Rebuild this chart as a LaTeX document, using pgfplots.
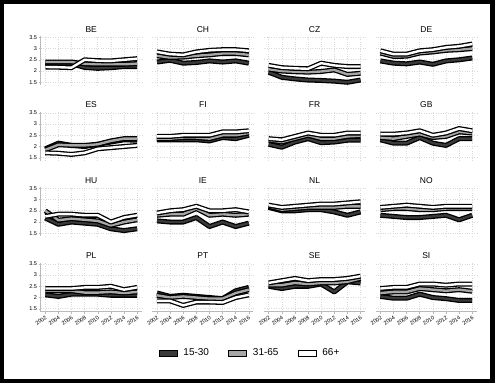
\documentclass[border=0pt]{standalone}
\usepackage{pgfplots}
\pgfplotsset{compat=1.18}
\usepackage{pgfplotstable}
\usepackage{fontspec}
\setmainfont{Liberation Sans}
\definecolor{cA}{HTML}{3A3A3A}
\definecolor{cB}{HTML}{A6A6A6}
\definecolor{cC}{HTML}{FFFFFF}

\pgfplotstableread{
year a b c
2002 2.35 2.40 2.18
2004 2.33 2.40 2.17
2006 2.33 2.40 2.15
2008 2.16 2.32 2.50
2010 2.12 2.30 2.46
2012 2.15 2.30 2.45
2014 2.20 2.30 2.50
2016 2.20 2.33 2.55
}\tBE
\pgfplotstableread{
year a b c
2002 2.40 2.68 2.85
2004 2.48 2.60 2.75
2006 2.35 2.62 2.72
2008 2.38 2.68 2.85
2010 2.45 2.72 2.92
2012 2.40 2.78 2.95
2014 2.45 2.78 2.95
2016 2.35 2.72 2.90
}\tCH
\pgfplotstableread{
year a b c
2002 1.95 2.08 2.25
2004 1.72 2.00 2.15
2006 1.65 1.97 2.12
2008 1.60 1.95 2.10
2010 1.58 1.98 2.35
2012 1.55 2.05 2.25
2014 1.50 1.85 2.20
2016 1.60 1.90 2.20
}\tCZ
\pgfplotstableread{
year a b c
2002 2.45 2.80 2.90
2004 2.35 2.65 2.75
2006 2.32 2.66 2.75
2008 2.40 2.80 2.90
2010 2.30 2.85 2.95
2012 2.45 2.92 3.05
2014 2.50 2.95 3.10
2016 2.58 3.00 3.20
}\tDE
\pgfplotstableread{
year a b c
2002 1.90 1.85 1.72
2004 2.15 2.08 1.70
2006 2.05 2.05 1.65
2008 2.00 2.05 1.72
2010 2.10 2.10 1.90
2012 2.20 2.25 1.95
2014 2.30 2.35 2.00
2016 2.28 2.35 2.05
}\tES
\pgfplotstableread{
year a b c
2002 2.30 2.35 2.45
2004 2.30 2.35 2.45
2006 2.30 2.40 2.50
2008 2.30 2.40 2.50
2010 2.25 2.35 2.50
2012 2.40 2.50 2.65
2014 2.35 2.50 2.65
2016 2.50 2.60 2.70
}\tFI
\pgfplotstableread{
year a b c
2002 2.10 2.28 2.35
2004 1.97 2.20 2.30
2006 2.20 2.35 2.45
2008 2.35 2.50 2.60
2010 2.17 2.35 2.50
2012 2.20 2.35 2.50
2014 2.28 2.45 2.60
2016 2.28 2.48 2.60
}\tFR
\pgfplotstableread{
year a b c
2002 2.30 2.40 2.55
2004 2.15 2.35 2.55
2006 2.15 2.45 2.60
2008 2.40 2.55 2.70
2010 2.15 2.40 2.50
2012 2.05 2.45 2.60
2014 2.35 2.65 2.80
2016 2.35 2.60 2.70
}\tGB
\pgfplotstableread{
year a b c
2002 2.18 2.50 2.25
2004 1.90 2.08 2.35
2006 2.00 2.15 2.35
2008 1.95 2.10 2.30
2010 1.90 2.05 2.30
2012 1.70 1.85 2.00
2014 1.62 2.00 2.20
2016 1.70 2.10 2.30
}\tHU
\pgfplotstableread{
year a b c
2002 2.05 2.30 2.40
2004 2.00 2.35 2.50
2006 2.00 2.35 2.55
2008 2.20 2.60 2.70
2010 1.80 2.30 2.50
2012 2.00 2.35 2.50
2014 1.80 2.30 2.55
2016 1.95 2.35 2.45
}\tIE
\pgfplotstableread{
year a b c
2002 2.65 2.70 2.75
2004 2.50 2.55 2.65
2006 2.50 2.60 2.70
2008 2.55 2.65 2.75
2010 2.55 2.65 2.80
2012 2.45 2.65 2.80
2014 2.30 2.70 2.85
2016 2.45 2.70 2.90
}\tNL
\pgfplotstableread{
year a b c
2002 2.30 2.55 2.65
2004 2.25 2.60 2.70
2006 2.20 2.60 2.75
2008 2.20 2.55 2.70
2010 2.25 2.55 2.65
2012 2.30 2.60 2.70
2014 2.10 2.60 2.70
2016 2.30 2.60 2.70
}\tNO
\pgfplotstableread{
year a b c
2002 2.12 2.30 2.40
2004 2.05 2.30 2.40
2006 2.15 2.30 2.40
2008 2.15 2.22 2.45
2010 2.15 2.22 2.45
2012 2.10 2.25 2.50
2014 2.10 2.20 2.35
2016 2.10 2.25 2.45
}\tPL
\pgfplotstableread{
year a b c
2002 2.20 2.10 1.85
2004 2.05 2.00 1.85
2006 2.10 2.05 1.65
2008 2.05 2.00 1.80
2010 2.00 1.95 1.80
2012 1.95 1.95 1.78
2014 2.30 2.20 2.00
2016 2.45 2.35 2.12
}\tPT
\pgfplotstableread{
year a b c
2002 2.50 2.55 2.65
2004 2.40 2.55 2.75
2006 2.50 2.65 2.85
2008 2.50 2.60 2.75
2010 2.60 2.65 2.80
2012 2.25 2.65 2.80
2014 2.70 2.70 2.85
2016 2.65 2.85 2.95
}\tSE
\pgfplotstableread{
year a b c
2002 2.05 2.20 2.40
2004 1.97 2.25 2.45
2006 1.97 2.25 2.45
2008 2.15 2.40 2.60
2010 2.00 2.35 2.60
2012 1.95 2.30 2.55
2014 1.87 2.35 2.60
2016 1.87 2.28 2.60
}\tSI

\pgfplotsset{
  panel/.style={
    scale only axis, width=101pt, height=49pt,
    xmin=2001.3, xmax=2016.7, ymin=1.37, ymax=3.55,
    xtick={2002,2004,...,2016}, ytick={1.5,2,2.5,3,3.5},
    grid=major, major grid style={dotted, gray!30, line width=0.6pt},
    axis line style={draw=none},
    xtick pos=lower, ytick pos=left,
    tick style={draw=none},
    xticklabels={}, yticklabels={},
    title style={font=\fontsize{8.5}{9}\selectfont, yshift=-5.5pt},
    tick label style={font=\fontsize{5.5}{6}\selectfont},
    /pgf/number format/assume math mode=true,
    anchor=south west,
    tick align=outside, major tick length=2pt,
  },
  leftcol/.style={
    yticklabels={1.5,2,2.5,3,3.5},
    ytick style={draw=gray!55, line width=0.5pt},
    y tick label style={inner sep=1.5pt},
    extra description/.append code={\draw[gray!55, line width=0.6pt] (rel axis cs:0,0) -- (rel axis cs:0,1);},
  },
  bottomrow/.style={
    xticklabels={2002,2004,2006,2008,2010,2012,2014,2016},
    xtick style={draw=gray!55, line width=0.5pt},
    x tick label style={rotate=35, anchor=north east, inner sep=1pt},
    extra description/.append code={\draw[gray!55, line width=0.6pt] (rel axis cs:0,0) -- (rel axis cs:1,0);},
  },
  outl/.style={black, line width=5pt, line join=round, no markers},
  inn/.style={line width=2.4pt, line join=round, no markers},
}

\newcommand{\series}[1]{%
  \addplot[outl] table[x=year,y=a] {#1};
  \addplot[inn, cA] table[x=year,y=a] {#1};
  \addplot[outl] table[x=year,y=b] {#1};
  \addplot[inn, cB] table[x=year,y=b] {#1};
  \addplot[outl] table[x=year,y=c] {#1};
  \addplot[inn, cC] table[x=year,y=c] {#1};
}
\newcommand{\panel}[5]{%
  \begin{axis}[panel, at={(#2pt,#3pt)}, title={#1}, #5]
  \series{#4}
  \end{axis}}

\begin{document}
\begin{tikzpicture}
\useasboundingbox (0pt,0pt) rectangle (500pt,385pt);
\draw[line width=4.5pt] (2.2pt,4pt) rectangle (492.7pt,382.8pt);

\panel{BE}{40.7}{299.8}{\tBE}{leftcol}
\panel{CH}{152.4}{299.8}{\tCH}{}
\panel{CZ}{264.1}{299.8}{\tCZ}{}
\panel{DE}{375.8}{299.8}{\tDE}{}

\panel{ES}{40.7}{224.3}{\tES}{leftcol}
\panel{FI}{152.4}{224.3}{\tFI}{}
\panel{FR}{264.1}{224.3}{\tFR}{}
\panel{GB}{375.8}{224.3}{\tGB}{}

\panel{HU}{40.7}{148.8}{\tHU}{leftcol}
\panel{IE}{152.4}{148.8}{\tIE}{}
\panel{NL}{264.1}{148.8}{\tNL}{}
\panel{NO}{375.8}{148.8}{\tNO}{}

\begin{axis}[panel, at={(40.7pt,73.3pt)}, title={PL}, leftcol, bottomrow,
  legend columns=3,
  legend style={draw=none, fill=none, at={(2.072,-0.843)}, anchor=center,
    font=\fontsize{10}{12}\selectfont,
    /tikz/every odd column/.append style={column sep=4pt},
    /tikz/every even column/.append style={column sep=17pt}},
  legend cell align=left]
\addlegendimage{legend image code/.code={\draw[black, line width=0.9pt, fill=cA] (0pt,-3pt) rectangle (18pt,3pt);}}
\addlegendimage{legend image code/.code={\draw[black, line width=0.9pt, fill=cB] (0pt,-3pt) rectangle (18pt,3pt);}}
\addlegendimage{legend image code/.code={\draw[black, line width=0.9pt, fill=cC] (0pt,-3pt) rectangle (18pt,3pt);}}
\legend{15-30,31-65,66+}
\series{\tPL}
\end{axis}
\panel{PT}{152.4}{73.3}{\tPT}{bottomrow}
\panel{SE}{264.1}{73.3}{\tSE}{bottomrow}
\panel{SI}{375.8}{73.3}{\tSI}{bottomrow}
\end{tikzpicture}
\end{document}
